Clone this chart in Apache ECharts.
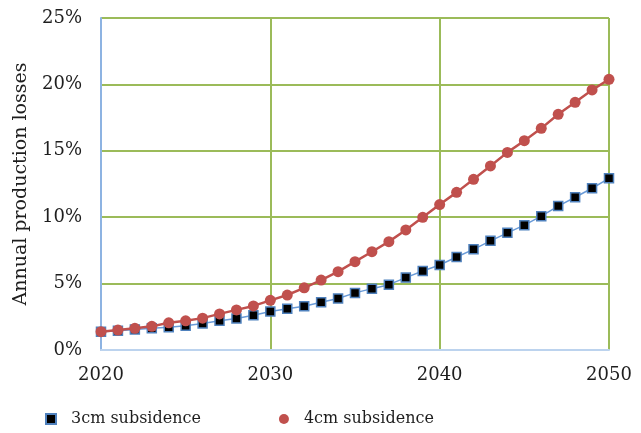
<!DOCTYPE html>
<html>
<head>
<meta charset="utf-8">
<script src="https://cdn.jsdelivr.net/npm/echarts@6/dist/echarts.min.js"></script>
<style>
  html, body { margin: 0; padding: 0; background: #ffffff; }
  #chart { width: 641px; height: 433px; }
</style>
</head>
<body>
<div id="chart"></div>
<script>
// Years on the horizontal axis
var years = [2020, 2021, 2022, 2023, 2024, 2025, 2026, 2027, 2028, 2029, 2030,
             2031, 2032, 2033, 2034, 2035, 2036, 2037, 2038, 2039, 2040,
             2041, 2042, 2043, 2044, 2045, 2046, 2047, 2048, 2049, 2050];

// Annual production losses (%) for each subsidence scenario
var loss3cm = [1.38, 1.45, 1.55, 1.63, 1.72, 1.83, 2.00, 2.20, 2.38, 2.62, 2.90,
               3.10, 3.30, 3.60, 3.88, 4.30, 4.62, 4.92, 5.45, 5.95, 6.40,
               7.00, 7.58, 8.22, 8.82, 9.40, 10.08, 10.84, 11.50, 12.18, 12.93];
var loss4cm = [1.38, 1.50, 1.63, 1.78, 2.05, 2.20, 2.40, 2.72, 3.02, 3.32, 3.74,
               4.14, 4.68, 5.27, 5.90, 6.65, 7.40, 8.16, 9.04, 9.99, 10.95,
               11.87, 12.85, 13.86, 14.88, 15.76, 16.69, 17.75, 18.65, 19.58, 20.38];

var seriesNames = ['3cm subsidence', '4cm subsidence'];
var yTicks = { min: 0, max: 25, step: 5 };
var xTicks = { min: 2020, max: 2050, step: 10 };

function pairs(values) {
  return years.map(function (y, i) { return [y, values[i]]; });
}

var textFont = 'DejaVu Serif';
var textColor = '#1e1e1e';
var gridGreen = '#9bbb59';

var chart = echarts.init(document.getElementById('chart'));
chart.setOption({
  animation: false,
  backgroundColor: '#ffffff',
  grid: {
    left: 101, right: 32, top: 18, bottom: 83,
    containLabel: false,
    outerBoundsMode: 'none'
  },
  xAxis: {
    type: 'value',
    min: xTicks.min,
    max: xTicks.max,
    interval: xTicks.step,
    axisLine: { show: true, lineStyle: { color: '#bcd3ee', width: 2 } },
    axisTick: { show: false },
    axisLabel: {
      margin: 16,
      fontFamily: textFont,
      fontSize: 18,
      color: textColor,
      formatter: function (v) { return String(v); }
    },
    splitLine: { show: true, lineStyle: { color: gridGreen, width: 2 } }
  },
  yAxis: {
    type: 'value',
    min: yTicks.min,
    max: yTicks.max,
    interval: yTicks.step,
    name: 'Annual production losses',
    nameLocation: 'middle',
    nameGap: 70,
    nameTextStyle: { fontFamily: textFont, fontSize: 19, color: textColor },
    axisLine: { show: true, lineStyle: { color: '#8db3e2', width: 2 } },
    axisTick: { show: false },
    axisLabel: {
      margin: 19,
      fontFamily: textFont,
      fontSize: 18,
      color: textColor,
      formatter: '{value}%'
    },
    splitLine: { show: true, lineStyle: { color: gridGreen, width: 2 } }
  },
  legend: {
    left: 40,
    top: 406,
    itemGap: 78,
    itemWidth: 10,
    itemHeight: 10,
    textStyle: { fontFamily: textFont, fontSize: 16, color: textColor, padding: [0, 0, 0, 10] },
    data: [
      { name: seriesNames[0], icon: 'rect', itemStyle: { color: '#000000', borderColor: '#4f81bd', borderWidth: 2 } },
      { name: seriesNames[1], icon: 'circle', itemStyle: { color: '#c0504d' } }
    ]
  },
  series: [
    {
      name: seriesNames[0],
      type: 'line',
      data: pairs(loss3cm),
      symbol: 'rect',
      symbolSize: 9,
      lineStyle: { color: '#6a9bd8', width: 1.5 },
      itemStyle: { color: '#000000', borderColor: '#4f81bd', borderWidth: 1.5 },
      z: 3
    },
    {
      name: seriesNames[1],
      type: 'line',
      data: pairs(loss4cm),
      symbol: 'circle',
      symbolSize: 11,
      lineStyle: { color: '#c0504d', width: 2.5 },
      itemStyle: { color: '#c0504d', borderColor: '#c0504d', borderWidth: 0 },
      z: 4
    }
  ]
});
</script>
</body>
</html>
